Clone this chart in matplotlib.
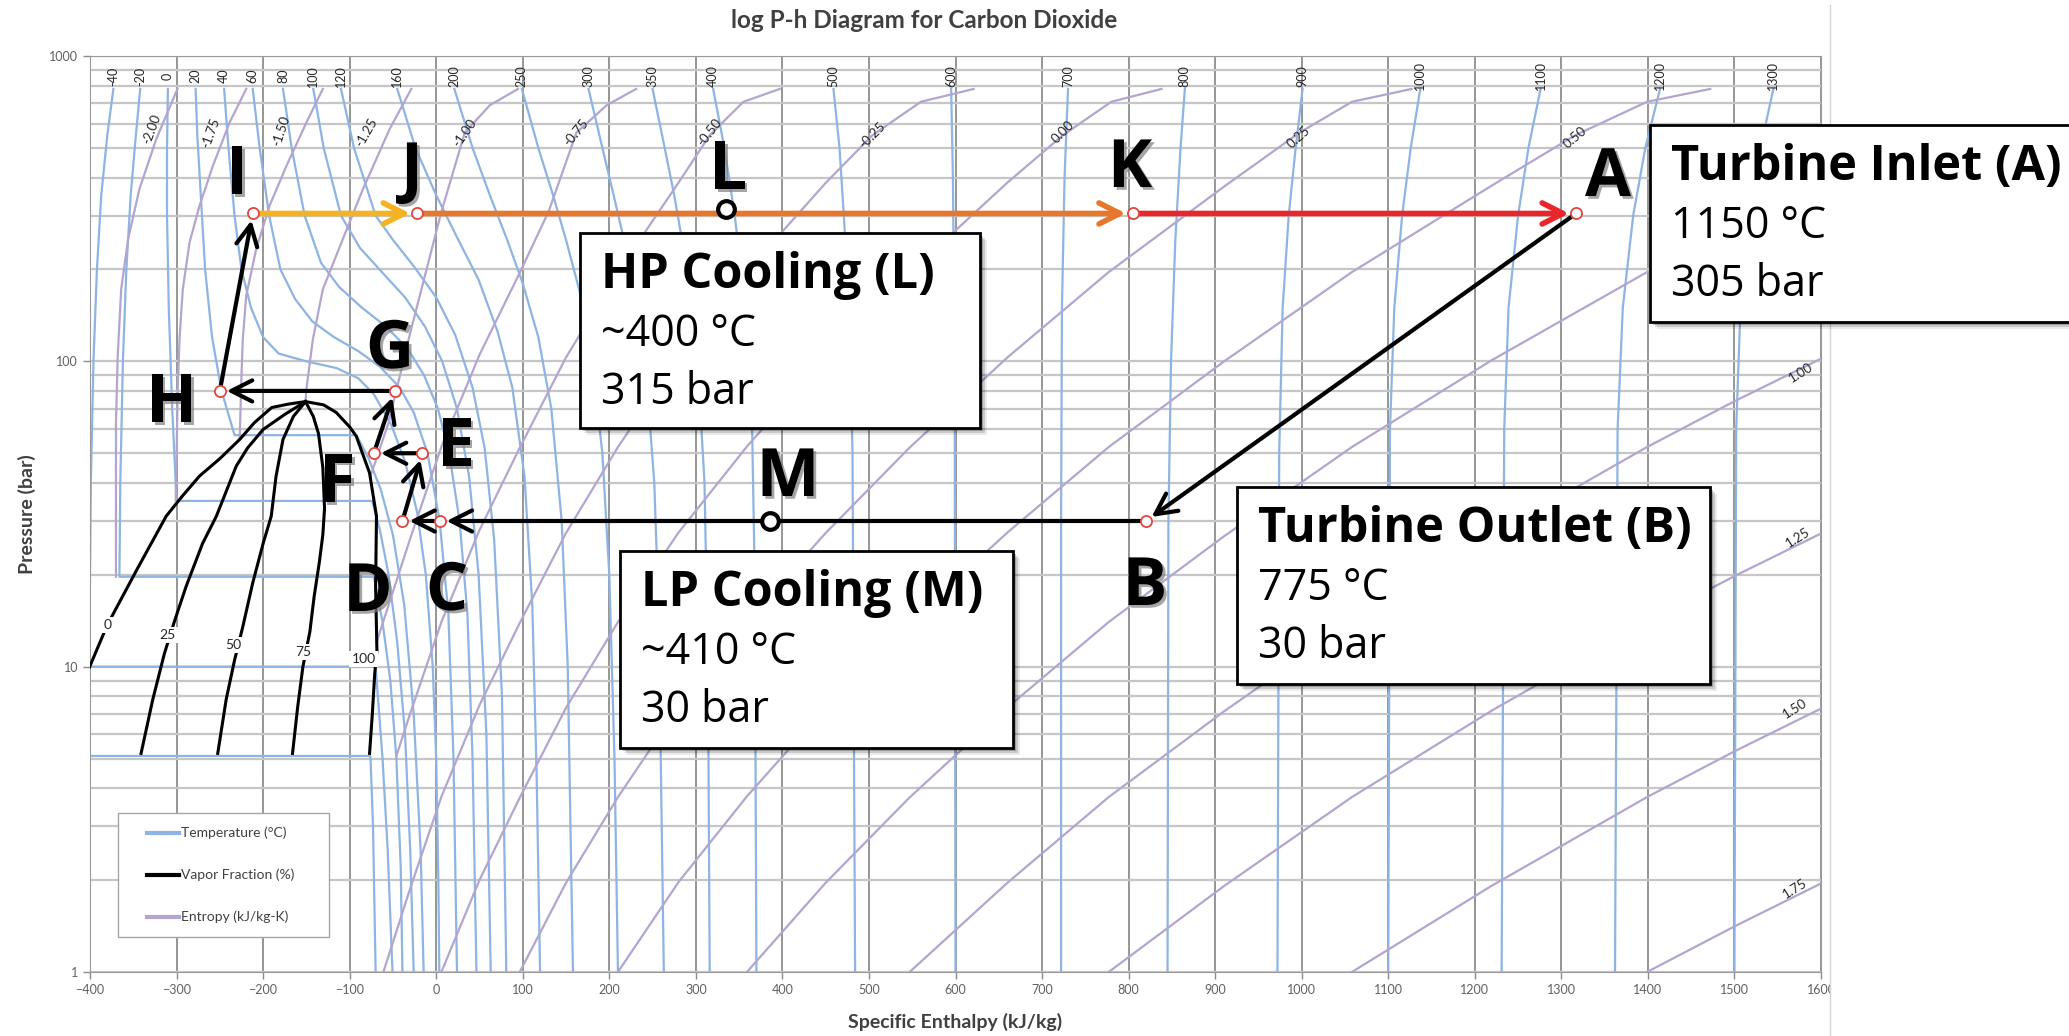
import matplotlib
matplotlib.use("Agg")
import matplotlib.pyplot as plt
import matplotlib.patheffects as pe
from matplotlib.patches import Rectangle
from matplotlib.lines import Line2D
from matplotlib.ticker import LogLocator, NullFormatter

plt.rcParams['font.family'] = ['Lato', 'DejaVu Sans']

W, H = 2069, 1036
BLUE = '#8DB4E2'
PURPLE = '#B3A5CF'
RED_MARK = '#E0463C'
BOX_FONT = 'Open Sans'

# ---------------- isotherms (deg C), enthalpy kJ/kg vs pressure bar ----------------
iso_T = [-56, -40, -20, 0, 20, 40, 60, 80, 100, 120, 160, 200, 250, 300, 350, 400,
         500, 600, 700, 800, 900, 1000, 1100, 1200, 1300]
iso_h = [
    [-400, -76, -73, -70],
    [-373, -380, -387, -392, -396, -399, -401, -70, -62, -56, -50.5],
    [-342, -347, -353, -358, -362, -365, -366, -72, -62, -53, -46, -41, -39],
    [-310, -311, -311, -309, -305, -300, -74, -65, -55, -45, -36, -30, -26],
    [-278, -276, -272, -267, -259, -248, -233, -92, -78, -64, -50, -37, -26, -18, -14.5],
    [-245, -240, -233, -225, -214, -200, -182, -150, -115, -90, -72, -52, -36, -22, -12, -4, 0, 2.5, 3.6],
    [-212, -204, -193, -180, -163, -143, -118, -90, -65, -42, -26, -10, 4, 14, 20, 24],
    [-177, -167, -152, -133, -112, -86, -58, -33, -14, 2, 15, 27, 36, 42, 46.5],
    [-142, -130, -110, -88, -62, -36, -13, 7, 24, 38, 49, 58, 63],
    [-110, -95, -70, -50, -26, 0, 22, 42, 56, 67, 76, 81],
    [-45, -24, 0, 24, 49, 71, 88, 102, 111, 116, 120],
    [21, 42, 62, 82, 100, 118, 133, 145, 152, 158],
    [99, 118, 135, 150, 168, 180, 192, 200, 206, 210],
    [176, 192, 205, 217, 232, 244, 252, 257, 263],
    [250, 264, 275, 290, 302, 310, 314, 316],
    [320, 333, 345, 357, 365, 368, 370],
    [459, 466, 471, 477, 481, 484],
    [595, 597, 599, 600],
    [730, 726, 723, 722, 722],
    [865, 860, 854, 849, 846, 845],
    [1001, 993, 985, 978, 974, 972],
    [1137, 1126, 1116, 1107, 1102, 1100],
    [1276, 1262, 1250, 1239, 1234, 1231],
    [1414, 1397, 1383, 1371, 1365, 1362],
    [1545, 1530, 1517, 1507, 1502, 1500],
]
iso_p = [
    [5.1, 5.1, 3, 1],
    [780, 550, 350, 200, 100, 40, 10, 10, 5, 2.5, 1],
    [780, 550, 350, 200, 100, 40, 19.7, 19.7, 14, 9, 5, 2.2, 1],
    [780, 500, 300, 150, 70, 34.9, 34.9, 28, 20, 12, 6, 2.5, 1],
    [780, 550, 350, 200, 120, 80, 57.3, 57.3, 48, 38, 27, 16, 7, 2.5, 1],
    [780, 500, 300, 200, 150, 120, 106, 100, 95, 88, 78, 62, 47, 32, 20, 10, 5, 2, 1],
    [780, 500, 300, 200, 160, 135, 120, 108, 96, 82, 68, 50, 30, 15, 5, 1],
    [780, 500, 300, 210, 175, 150, 130, 110, 90, 70, 50, 30, 15, 5, 1],
    [780, 500, 300, 235, 195, 162, 130, 100, 70, 42, 20, 6, 1],
    [780, 500, 300, 250, 205, 162, 122, 82, 52, 26, 8, 1],
    [780, 500, 350, 255, 185, 125, 82, 42, 16, 4.5, 1],
    [780, 500, 350, 250, 180, 120, 70, 30, 10, 1],
    [780, 500, 350, 250, 160, 100, 50, 20, 5, 1],
    [780, 500, 350, 250, 150, 80, 40, 15, 1],
    [780, 500, 350, 200, 100, 40, 10, 1],
    [780, 500, 300, 150, 60, 20, 1],
    [780, 500, 300, 150, 50, 1],
    [780, 400, 100, 1],
    [780, 400, 150, 30, 1],
    [780, 500, 250, 100, 30, 1],
    [780, 500, 300, 150, 50, 1],
    [780, 500, 300, 150, 60, 1],
    [780, 500, 300, 150, 60, 1],
    [780, 500, 300, 150, 60, 1],
    [780, 500, 300, 150, 60, 1],
]
# labels printed along the top edge
iso_label = ['-40', '-20', '0', '20', '40', '60', '80', '100', '120', '160', '200', '250',
             '300', '350', '400', '500', '600', '700', '800', '900', '1000', '1100', '1200', '1300']
iso_label_h = [-373, -342, -310, -278, -245, -212, -177, -142, -110, -45, 21, 99,
               176, 250, 320, 459, 595, 730, 865, 1001, 1137, 1276, 1414, 1545]

# ---------------- vapour fraction (%) ----------------
q_val = ['0', '25', '50', '75', '100']
q_h = [
    [-151, -170, -190, -210, -227, -250, -273.5, -294, -312, -345, -380, -403],
    [-151, -175, -200, -218, -231, -254, -270, -289, -302, -314, -327.5, -341],
    [-151, -165, -177, -185, -190.6, -200, -212, -223.5, -233, -242.7, -252.4],
    [-151, -142, -136, -131, -129, -131, -135, -141, -146, -154, -160, -166],
    [-151, -130, -115.5, -100, -92.4, -77, -69, -70, -68.5, -71, -74, -77],
]
q_p = [
    [73.8, 72.5, 70.6, 63, 55.5, 48, 42.1, 36, 31.1, 21, 13.7, 9.6],
    [73.8, 67, 59.8, 52, 45.4, 31.1, 25.3, 18.3, 14.2, 11.05, 7.8, 5.2],
    [73.8, 66, 55.5, 42.1, 31.1, 25.3, 18.8, 13.5, 10.5, 7.8, 5.2],
    [73.8, 66, 58, 45, 33, 27, 22, 17, 13, 10, 7.4, 5.2],
    [73.8, 72, 68, 61, 56.9, 43.1, 31.1, 18.3, 11.3, 9.5, 6.86, 5.2],
]
q_label_h = [-380, -310, -234, -154, -84]
q_label_p = [13.7, 12.7, 11.8, 11.2, 10.6]

# ---------------- entropy (kJ/kg-K) ----------------
s_val = ['-2.00', '-1.75', '-1.50', '-1.25', '-1.00', '-0.75', '-0.50', '-0.25',
         '0.00', '0.25', '0.50', '0.75', '1.00', '1.25', '1.50', '1.75']
s_h = [
    [-299, -323.6, -343, -356, -364, -368, -370, -370],
    [-219.5, -238.8, -258, -273.5, -285, -292.8, -296.6, -298.6, -300, -301],
    [-131, -150, -173, -192.6, -208, -219.5, -223.5, -225, -227],
    [-28.8, -54, -84.7, -108, -131, -142.5, -150, -151],
    [94.5, 62, 33, 6, -30, -55, -76],
    [231, 197, 162, 130, 96.5, 50, 6, -30, -61, -69],
    [397, 355, 316, 280, 210, 150, 96.5, 50, 6, -30, -46],
    [621, 560, 504, 450, 359, 280, 210, 150, 96.5, 50, 6, -30, -61],
    [838, 780, 724, 660, 547, 450, 359, 280, 210, 150, 96.5, 50, 6],
    [1127, 1058, 997, 910, 777, 660, 547, 450, 359, 280, 210, 150, 96.5],
    [1472, 1399, 1316, 1220, 1058, 910, 777, 660, 547, 450, 359, 280, 210],
    [1600, 1500, 1399, 1220, 1058, 910, 777, 660, 547, 450, 359],
    [1600, 1500, 1399, 1220, 1058, 910, 777, 660, 547],
    [1600, 1500, 1399, 1220, 1058, 910, 777],
    [1600, 1500, 1399, 1220, 1058],
    [1600, 1500, 1399],
]
s_p = [
    [780, 533, 366, 251, 172, 104, 63, 19.7],
    [780, 605, 437, 323, 245, 172, 118, 81, 49, 35],
    [780, 605, 437, 323, 233, 164, 118, 89.5, 56],
    [780, 575, 366, 251, 172, 118, 81, 74],
    [780, 690, 561, 309, 124, 63, 42],
    [780, 690, 561, 310, 195, 105, 52.5, 26.3, 14.1, 12],
    [780, 708, 550, 385, 196, 103, 52.1, 28.0, 14.0, 7.03, 5.1],
    [780, 708, 550, 384, 197, 103, 52.4, 27.4, 13.9, 7.48, 3.75, 1.88, 1.0],
    [780, 708, 550, 385, 195, 103, 52.6, 27.5, 14.0, 7.33, 3.72, 2.0, 1.0],
    [780, 708, 560, 373, 196, 103, 52.2, 27.4, 14.1, 7.36, 3.74, 1.96, 1.0],
    [780, 708, 550, 377, 196, 99.8, 52.4, 27.5, 14.0, 7.33, 3.76, 1.97, 1.0],
    [382, 277, 196, 101, 52.4, 26.7, 14.0, 7.35, 3.73, 1.96, 1.0],
    [102, 74, 52.4, 26.9, 14.0, 7.13, 3.74, 1.96, 1.0],
    [27.3, 19.8, 14.0, 7.19, 3.74, 1.91, 1.0],
    [7.29, 5.28, 3.74, 1.92, 1.0],
    [1.95, 1.41, 1.0],
]
s_label_h = [-329, -260, -179, -81, 33, 162, 316, 504, 724, 997, 1316, 1575, 1577, 1573, 1570, 1570]
s_label_p = [575, 561, 568, 561, 561, 561, 561, 551, 564, 540, 540, 330, 92, 26.4, 7.3, 1.88]
s_label_rot = [70, 70, 72, 60, 55, 50, 52, 45, 45, 42, 40, 32, 32, 32, 32, 32]

# ---------------- sCO2 cycle state points ----------------
state_name = ['A', 'B', 'C', 'D', 'E', 'F', 'G', 'H', 'I', 'J', 'K']
state_h = [1317, 820, 4, -39, -16, -72, -48, -250, -212, -22, 805]
state_p = [305, 30, 30, 30, 50, 50, 80, 80, 305, 305, 305]
path_order = ['A', 'B', 'C', 'D', 'E', 'F', 'G', 'H', 'I', 'J', 'K', 'A']
path_color = ['black'] * 8 + ['#F5B321', '#E8772E', '#E8262B']
cooler_name = ['L', 'M']
cooler_h = [335, 386]
cooler_p = [315, 30]

callout_title = ['Turbine Inlet (A)', 'Turbine Outlet (B)', 'HP Cooling (L)', 'LP Cooling (M)']
callout_temp = ['1150 °C', '775 °C', '~400 °C', '~410 °C']
callout_p = [state_p[0], state_p[1], cooler_p[0], cooler_p[1]]

legend_label = ['Temperature (°C)', 'Vapor Fraction (%)', 'Entropy (kJ/kg-K)']
legend_color = [BLUE, 'black', PURPLE]

# ---------------- figure ----------------
fig = plt.figure(figsize=(W / 100, H / 100), dpi=100)
ax = fig.add_axes([90 / W, 1 - 972 / H, 1731 / W, 916 / H])
ax.set_yscale('log')
ax.set_xlim(-400, 1600)
ax.set_ylim(1, 1000)
ax.set_xticks(range(-400, 1601, 100))
ax.set_yticks([1, 10, 100, 1000])
ax.set_yticklabels(['1', '10', '100', '1000'])
ax.yaxis.set_minor_locator(LogLocator(base=10, subs=range(2, 10)))
ax.yaxis.set_minor_formatter(NullFormatter())
ax.tick_params(which='minor', length=0)
ax.tick_params(which='major', length=5, width=1, color='#8C8C8C', labelsize=9, labelcolor='#606060')
ax.grid(axis='x', which='major', color='#8E8E8E', lw=1.3)
ax.grid(axis='y', which='both', color='#C6C6C6', lw=1.6)
ax.set_axisbelow(True)
for sp in ax.spines.values():
    sp.set_color('#9A9A9A')

for h, p in zip(iso_h, iso_p):
    ax.plot(h, p, color=BLUE, lw=1.6, zorder=2, solid_joinstyle='round')
for h, p in zip(s_h, s_p):
    ax.plot(h, p, color=PURPLE, lw=1.6, zorder=2, solid_joinstyle='round')
for h, p in zip(q_h, q_p):
    ax.plot(h, p, color='black', lw=2.2, zorder=3, solid_joinstyle='round')

for s, h in zip(iso_label, iso_label_h):
    ax.text(h, 860, s, rotation=90, ha='center', va='center', fontsize=9, color='#262626', zorder=4)
for s, h, p in zip(q_val, q_label_h, q_label_p):
    ax.text(h, p, s, ha='center', va='center', fontsize=10, color='#262626', zorder=4,
            bbox=dict(fc='white', ec='none', pad=1.5))
for s, h, p, r in zip(s_val, s_label_h, s_label_p, s_label_rot):
    ax.text(h, p, s, rotation=r, ha='center', va='center', fontsize=9.5, color='#262626', zorder=4)

# cycle path
pos = dict(zip(state_name, zip(state_h, state_p)))
for a, b, c in zip(path_order[:-1], path_order[1:], path_color):
    lw = 3.0 if c == 'black' else 4.0
    ax.annotate('', xy=pos[b], xytext=pos[a],
                arrowprops=dict(arrowstyle='->,head_length=0.75,head_width=0.38', color=c, lw=lw,
                                shrinkA=4, shrinkB=5, mutation_scale=20), zorder=5)
ax.plot(state_h, state_p, ls='none', marker='o', ms=8, mfc='white', mec=RED_MARK, mew=1.3, zorder=6)
ax.plot(cooler_h, cooler_p, ls='none', marker='o', ms=12, mfc='white', mec='black', mew=3, zorder=6)

ax.set_xlabel('Specific Enthalpy (kJ/kg)', fontsize=14, fontweight='bold', color='#404040', va='center')
ax.xaxis.set_label_coords(0.5, -(1022 - 972) / 916)
ax.set_ylabel('Pressure (bar)', fontsize=14, fontweight='bold', color='#404040', va='center')
ax.yaxis.set_label_coords(-(90 - 27) / 1731, 0.5)
fig.text(924 / W, 1 - 21 / H, 'log P-h Diagram for Carbon Dioxide', ha='center', va='center',
         fontsize=17.5, fontweight='bold', color='#404040')


def px(x, y):
    return x / W, 1 - y / H


# the chart image ends at the right border
fig.add_artist(Rectangle((1831 / W, 0), 1, 1, transform=fig.transFigure, fc='white', ec='none', zorder=1))
fig.add_artist(Line2D([1830 / W, 1830 / W], [0, 1 - 5 / H], transform=fig.transFigure,
                      color='#D4D4D4', lw=1, zorder=1))

# legend box, drawn in pixel layout
fig.add_artist(Rectangle(px(118, 937), 211 / W, 124 / H, transform=fig.transFigure,
                         fc='white', ec='#A6A6A6', lw=1, zorder=1))
for i, (lab, col) in enumerate(zip(legend_label, legend_color)):
    y = 833 + 42 * i
    fig.add_artist(Line2D([147 / W, 179 / W], [1 - y / H] * 2, transform=fig.transFigure,
                          color=col, lw=3, zorder=1))
    fig.text(*px(181, y), lab, ha='left', va='center', fontsize=10, color='#404040', zorder=1)

# big point letters
letter_xy = {'I': (237, 194), 'J': (412, 190), 'L': (728, 189), 'K': (1130, 187), 'A': (1608, 196),
             'G': (390, 368), 'H': (172, 422), 'E': (456, 466), 'F': (337, 502), 'D': (368, 611),
             'C': (447, 610), 'M': (788, 496), 'B': (1145, 605)}
for s, (x, y) in letter_xy.items():
    fig.text(*px(x, y), s, ha='center', va='baseline', fontsize=48, fontweight='bold',
             family=BOX_FONT, color='black', zorder=7,
             path_effects=[pe.withSimplePatchShadow(offset=(2, -2), shadow_rgbFace='#7F7F7F', alpha=0.7)])


def callout(x0, y0, x1, y1, lines):
    for off, a in [(7, 0.08), (5, 0.14), (3, 0.22)]:
        fig.add_artist(Rectangle(px(x0 + off, y1 + off), (x1 - x0) / W, (y1 - y0) / H,
                                 transform=fig.transFigure, fc='black', ec='none', alpha=a, zorder=8))
    fig.add_artist(Rectangle(px(x0, y1), (x1 - x0) / W, (y1 - y0) / H, transform=fig.transFigure,
                             fc='white', ec='black', lw=2, zorder=9))
    for i, s in enumerate(lines):
        fig.text(*px(x0 + 21, y0 + 55 + 58 * i), s, fontsize=35 if i == 0 else 31, family=BOX_FONT,
                 fontweight='bold' if i == 0 else 'normal', ha='left', va='baseline', zorder=10)


box_xy = [(1650, 125, 2085, 322), (1237, 487, 1710, 684), (580, 233, 980, 428), (620, 551, 1013, 748)]
for (x0, y0, x1, y1), t, tc, p in zip(box_xy, callout_title, callout_temp, callout_p):
    callout(x0, y0, x1, y1, [t, tc, f'{p:g} bar'])

fig.savefig('out.png', dpi=100)
